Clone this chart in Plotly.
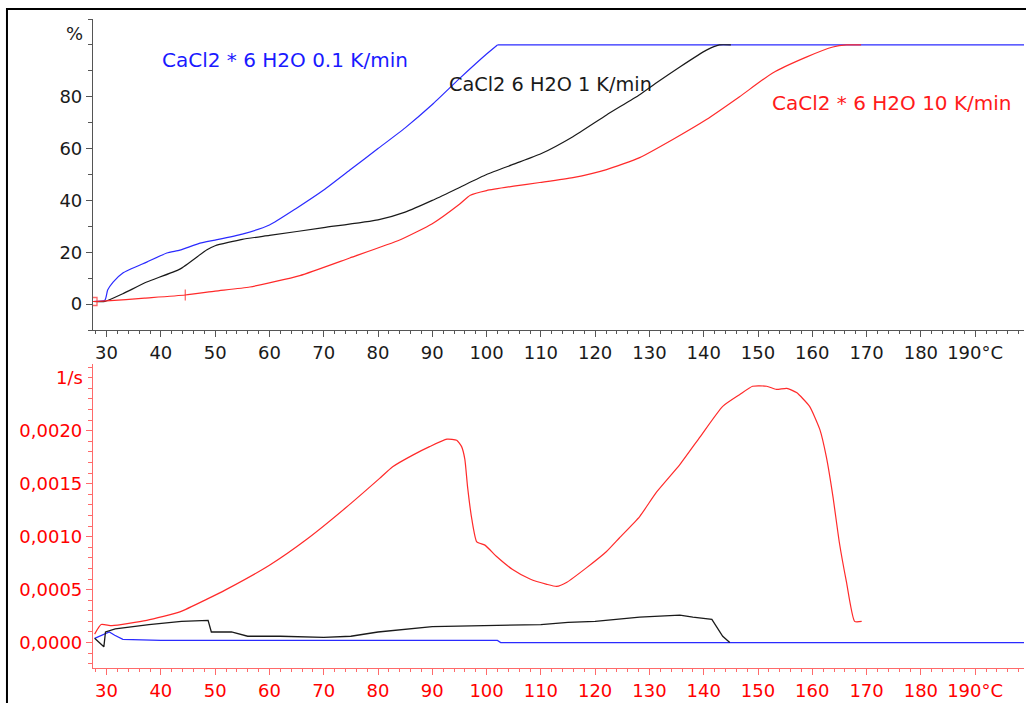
import plotly.graph_objects as go

# ---------------- data ----------------
# Top panel: conversion (%) vs temperature (°C)
t_blue_top = [27.5, 29.7, 30.2, 31.2, 33.0, 37.4, 41.1, 43.5, 47.2, 50, 55, 60, 65, 70, 75, 80, 85, 90, 95, 100, 102, 120, 140, 160, 180, 199]
v_blue_top = [1.0, 1.5, 5.4, 8.5, 12.0, 16.2, 19.7, 20.8, 23.5, 24.7, 27.0, 30.5, 37.0, 44.0, 52.0, 60.0, 68.0, 77.0, 87.0, 96.5, 100, 100, 100, 100, 100, 100]

t_black_top = [27.5, 29.7, 33.0, 37.4, 43.5, 48.5, 50, 55, 60, 70, 80, 85, 90, 95, 100, 105, 110, 115.9, 122.1, 128.2, 131.3, 135.6, 140.5, 142.9, 145]
v_black_top = [1.0, 1.0, 4.0, 8.5, 13.5, 21.0, 22.5, 25.0, 26.5, 29.5, 32.5, 35.5, 40.0, 45.0, 50.0, 54.0, 58.0, 64.6, 73.0, 80.8, 85.4, 91.5, 98.0, 100, 100]

t_red_top = [27.5, 30, 37, 44.5, 50, 56.4, 65.6, 74.8, 84, 90, 95, 97, 100, 105, 109.8, 115.9, 122.1, 128.2, 134.3, 140.5, 146.6, 152.7, 159, 163.8, 166.3, 169]
v_red_top = [1.0, 1.2, 2.3, 3.5, 5.0, 6.6, 11.0, 17.8, 24.7, 31.0, 38.5, 42.0, 43.8, 45.5, 46.9, 48.8, 51.9, 56.5, 63.5, 71.2, 80.0, 89.2, 95.4, 99.2, 100, 100]

# markers on the red curve
t_red_marks = [27.5, 44.5]
v_red_marks = [1.0, 3.5]

# Bottom panel: rate (1/s) vs temperature (°C)
t_blue_bot = [27.8, 29.5, 30.5, 31.5, 33, 40, 60, 80, 100, 102, 102.6, 120, 140, 160, 180, 199]
v_blue_bot = [0.00004, 0.00008, 0.0001, 0.00007, 0.00003, 0.00002, 0.00002, 0.00002, 0.00002, 0.00002, 0.0, 0.0, 0.0, 0.0, 0.0, 0.0]

t_black_bot = [27.8, 29.5, 29.8, 31.6, 37.8, 43.8, 48.7, 49.3, 53, 56, 62, 70, 75, 80, 90, 100, 110, 115, 120, 128.2, 135.6, 138, 141.5, 143.5, 144.8]
v_black_bot = [0.00004, -0.00004, 0.0001, 0.00013, 0.00017, 0.0002, 0.00021, 0.0001, 0.0001, 0.00006, 0.00006, 0.00005, 0.00006, 0.0001, 0.00015, 0.00016, 0.00017, 0.00019, 0.0002, 0.00024, 0.00026, 0.00024, 0.00022, 0.00006, 0.0]

t_red_bot = [27.8, 29.0, 31.0, 37.4, 43.5, 48.5, 52, 60, 67, 74, 80.3, 82.7, 86.4, 89.5, 92.7, 94.5, 95.4, 96.0, 96.5, 97.3, 98.2, 99.7, 101.9, 104.8, 108, 111.1, 112.9, 114.8, 118.5, 122.1, 124.5, 128.2, 131.3, 135.6, 139.3, 143.5, 146.6, 149, 151.6, 153.4, 155.3, 157.1, 159.5, 161.4, 162.6, 163.8, 165, 166.3, 167.8, 169.1]
v_red_bot = [0.00008, 0.00017, 0.00016, 0.00021, 0.00029, 0.00041, 0.0005, 0.00073, 0.00098, 0.00127, 0.00155, 0.00166, 0.00177, 0.00185, 0.00192, 0.00191, 0.00185, 0.00173, 0.00147, 0.00116, 0.00095, 0.00092, 0.00081, 0.00069, 0.0006, 0.00055, 0.00053, 0.00057, 0.00071, 0.00086, 0.00099, 0.00119, 0.00142, 0.00168, 0.00194, 0.00223, 0.00234, 0.00242, 0.00242, 0.00239, 0.0024, 0.00236, 0.00223, 0.00201, 0.00175, 0.00138, 0.00094, 0.00057, 0.0002, 0.0002]

x_tickvals = [30, 40, 50, 60, 70, 80, 90, 100, 110, 120, 130, 140, 150, 160, 170, 180, 190]
x_ticktext = ["30", "40", "50", "60", "70", "80", "90", "100", "110", "120", "130", "140", "150", "160", "170", "180", "190°C"]
top_y_tickvals = [0, 20, 40, 60, 80]
bot_y_tickvals = [0.0, 0.0005, 0.0010, 0.0015, 0.0020]

label_blue = "CaCl2 * 6 H2O 0.1 K/min"
label_black = "CaCl2 6 H2O 1 K/min"
label_red = "CaCl2 * 6 H2O 10 K/min"

# ---------------- styles ----------------
FONT = "DejaVu Sans"
BLUE = "#2a2aff"
BLACK = "#1a1a1a"
RED = "#ff2a2a"
RED_AX = "#ff6a6a"
GRAY_AX = "#555555"
SM = 0.5

fig = go.Figure()

# top panel: blue rising part (smoothed) and its plateau (straight)
k = t_blue_top.index(102)
fig.add_trace(go.Scatter(x=t_blue_top[:k + 1], y=v_blue_top[:k + 1], mode="lines", line=dict(color=BLUE, width=1.2, shape="spline", smoothing=SM), xaxis="x", yaxis="y", showlegend=False))
fig.add_trace(go.Scatter(x=t_blue_top[k:], y=v_blue_top[k:], mode="lines", line=dict(color=BLUE, width=1.2), xaxis="x", yaxis="y", showlegend=False))
fig.add_trace(go.Scatter(x=t_black_top, y=v_black_top, mode="lines", line=dict(color=BLACK, width=1.2, shape="spline", smoothing=SM), xaxis="x", yaxis="y", showlegend=False))
fig.add_trace(go.Scatter(x=t_red_top, y=v_red_top, mode="lines", line=dict(color=RED, width=1.2, shape="spline", smoothing=SM), xaxis="x", yaxis="y", showlegend=False))
fig.add_trace(go.Scatter(x=t_red_marks, y=v_red_marks, mode="markers",
                         marker=dict(symbol=["square-open", "line-ns-open"], size=[8, 8], color=RED,
                                     line=dict(color=RED, width=1.3)),
                         xaxis="x", yaxis="y", showlegend=False))

# bottom panel
fig.add_trace(go.Scatter(x=t_blue_bot, y=v_blue_bot, mode="lines", line=dict(color=BLUE, width=1.2), xaxis="x2", yaxis="y2", showlegend=False))
fig.add_trace(go.Scatter(x=t_black_bot, y=v_black_bot, mode="lines", line=dict(color=BLACK, width=1.3), xaxis="x2", yaxis="y2", showlegend=False))
fig.add_trace(go.Scatter(x=t_red_bot, y=v_red_bot, mode="lines", line=dict(color=RED, width=1.2, shape="spline", smoothing=SM), xaxis="x2", yaxis="y2", showlegend=False))

xrange = [27.5, 199]

common_x = dict(range=xrange, tickmode="array", tickvals=x_tickvals, ticktext=x_ticktext,
                ticks="outside", ticklen=6, showline=True, linewidth=1.2, showgrid=False, zeroline=False)

fig.update_layout(
    width=1026, height=703, autosize=False,
    margin=dict(l=93, r=2, t=19, b=35),
    paper_bgcolor="white", plot_bgcolor="white",
    separators=",.",
    font=dict(family=FONT, size=18, color=BLACK),
    xaxis=dict(**common_x, domain=[0, 1], anchor="y", linecolor=GRAY_AX, tickcolor=GRAY_AX,
               minor=dict(ticks="outside", ticklen=3, dtick=2, tick0=0, showgrid=False, tickcolor=GRAY_AX),
               tickfont=dict(family=FONT, size=18, color=BLACK)),
    yaxis=dict(domain=[0.5208, 1.0], anchor="x", range=[-10, 110], tickmode="array", tickvals=top_y_tickvals,
               ticks="outside", ticklen=6, showline=True, linewidth=1.2, linecolor=GRAY_AX, tickcolor=GRAY_AX,
               showgrid=False, zeroline=False,
               minor=dict(ticks="outside", ticklen=4, dtick=10, tick0=0, showgrid=False, tickcolor=GRAY_AX),
               tickfont=dict(family=FONT, size=18, color=BLACK)),
    xaxis2=dict(**common_x, domain=[0, 1], anchor="y2", linecolor=RED_AX, tickcolor=RED_AX,
                minor=dict(ticks="outside", ticklen=3, dtick=2, tick0=0, showgrid=False, tickcolor=RED_AX),
                tickfont=dict(family=FONT, size=18, color="#ff0000")),
    yaxis2=dict(domain=[0.0, 0.4684], anchor="x2", range=[-0.00024, 0.00263], tickmode="array",
                tickvals=bot_y_tickvals, tickformat=".4f",
                ticks="outside", ticklen=6, showline=True, linewidth=1.2, linecolor=RED_AX, tickcolor=RED_AX,
                showgrid=False, zeroline=False,
                minor=dict(ticks="outside", ticklen=4, dtick=0.0001, tick0=0, showgrid=False, tickcolor=RED_AX),
                tickfont=dict(family=FONT, size=18, color="#ff0000")),
)

# unit labels at the top of the y axes
fig.add_annotation(text="%", xref="paper", yref="y", x=0, y=104.6, xanchor="right", yanchor="middle",
                   xshift=-8, showarrow=False, font=dict(family=FONT, size=18, color=BLACK))
fig.add_annotation(text="1/s", xref="paper", yref="y2", x=0, y=0.0025, xanchor="right", yanchor="middle",
                   xshift=-8, showarrow=False, font=dict(family=FONT, size=18, color="#ff0000"))

# curve labels
fig.add_annotation(text=label_blue, xref="x", yref="y", x=39.8, y=94.2, xanchor="left", yanchor="middle",
                   showarrow=False, font=dict(family=FONT, size=20, color="#1a1aff"))
fig.add_annotation(text=label_black, xref="x", yref="y", x=92.7, y=84.6, xanchor="left", yanchor="middle",
                   showarrow=False, font=dict(family=FONT, size=19.3, color=BLACK))
fig.add_annotation(text=label_red, xref="x", yref="y", x=152.2, y=77.6, xanchor="left", yanchor="middle",
                   showarrow=False, font=dict(family=FONT, size=20, color="#ff1a1a"))

# outer frame
fig.add_shape(type="rect", xref="paper", yref="paper", x0=-0.0924, x1=1.006, y0=-0.07, y1=1.0154,
              line=dict(color="black", width=2), fillcolor="rgba(0,0,0,0)", layer="above")

fig.write_html("out.html")
